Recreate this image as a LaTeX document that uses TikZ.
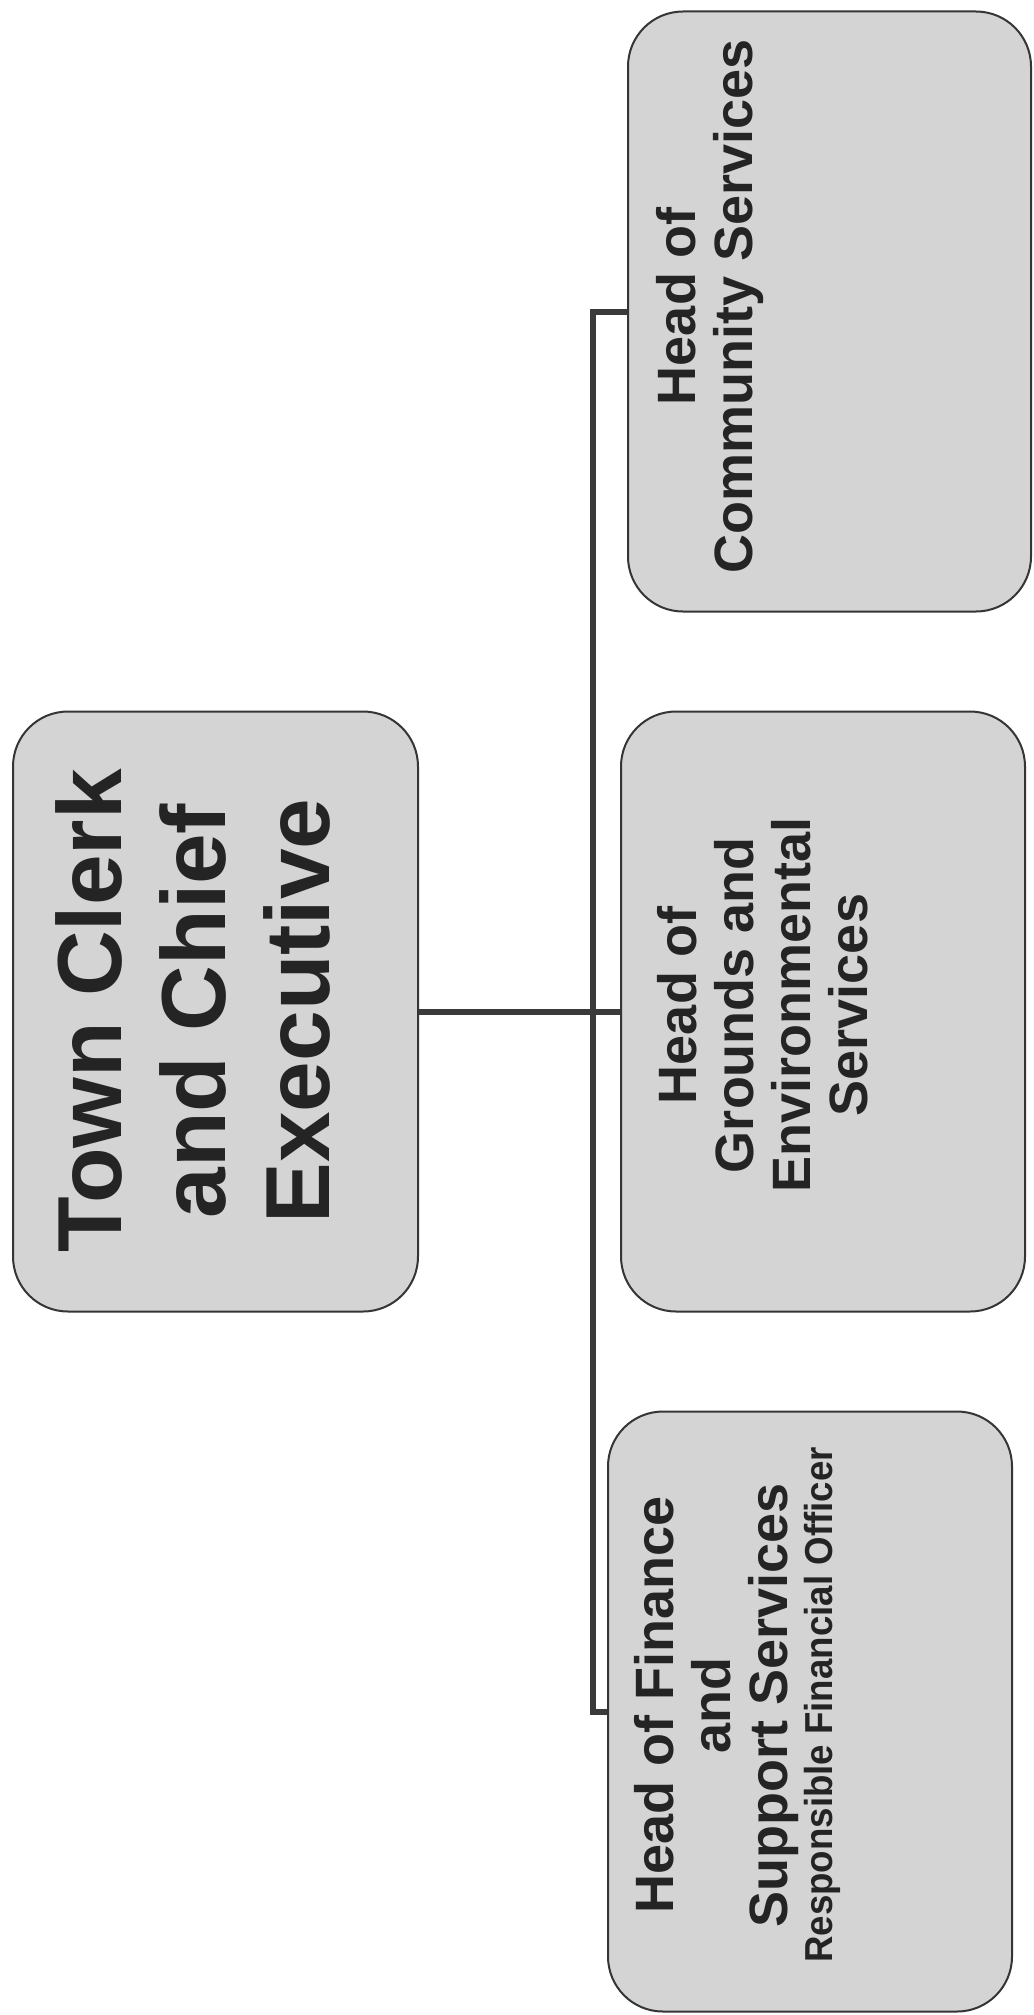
\documentclass[tikz,border=0pt]{standalone}
\usepackage{fontspec}
\setmainfont{Liberation Sans}
\newfontfamily\narrowsans[FakeStretch=0.94]{Liberation Sans}
\definecolor{boxfill}{HTML}{D4D4D4}
\definecolor{boxline}{HTML}{353535}
\definecolor{inkgray}{HTML}{242424}
\definecolor{linkgray}{HTML}{3A3A3A}
\tikzset{
  post/.style={draw=boxline, line width=2pt, fill=boxfill, rounded corners=55pt,
    minimum width=405pt, minimum height=600pt, inner sep=0pt},
  posttext/.style={rotate=90, text=inkgray, align=center, inner sep=0pt,
    font=\bfseries\fontsize{54}{57}\selectfont},
  conn/.style={draw=linkgray, line width=6pt}
}
\begin{document}
\begin{tikzpicture}[x=1pt,y=-1pt]
  \useasboundingbox (0,0) rectangle (1033,2015);
  \fill[white] (0,0) rectangle (1033,2015);

  % posts
  \node[post] (tc) at (215.5,1011.5) {};
  \node[post, minimum width=403pt] (com) at (829.5,311.5) {};
  \node[post, minimum width=404pt] (grd) at (823,1011.5) {};
  \node[post, minimum width=404pt] (fin) at (810,1711.5) {};

  % reporting lines
  \coordinate (trunk) at (593,0);
  \draw[conn] (tc.east) -- (grd.west);
  \draw[conn] (com.west) -- (com.west -| trunk) -- (fin.west -| trunk) -- (fin.west);

  % titles, set sideways
  \node[posttext, font=\bfseries\fontsize{91}{104}\selectfont] (tcText) at (193,1011)
    {Town Clerk\\and Chief\\Executive};
  \node[posttext] (comText) at (710,306) {Head of\\Community Services};
  \node[posttext] (grdText) at (763,1005) {Head of\\Grounds and\\Environmental\\Services};
  \node[posttext] (finText) at (737,1705)
    {Head of Finance\\and\\Support Services\\[-12pt]{\narrowsans\bfseries\fontsize{39}{45}\selectfont Responsible Financial Officer}};
\end{tikzpicture}
\end{document}
